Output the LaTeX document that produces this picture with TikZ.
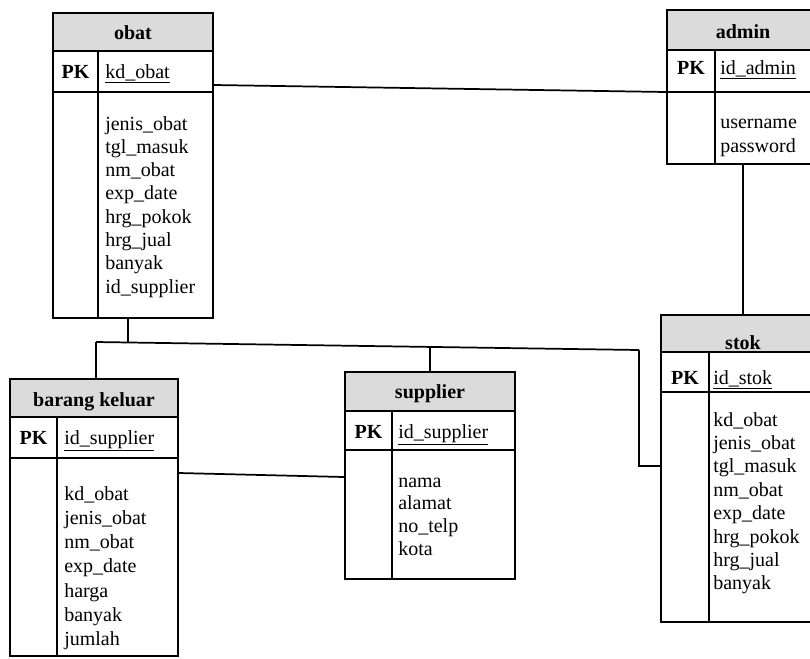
\documentclass[tikz,border=0pt]{standalone}
\usepackage{fontspec}
\setmainfont{Liberation Serif}
\usetikzlibrary{fit}
\tikzset{
  tablebox/.style={draw, line width=1.5pt, inner sep=0pt},
  titlebox/.style={draw, fill=black!14, line width=1.5pt, inner sep=0pt},
  rule/.style={line width=1.5pt},
  conn/.style={line width=1.3pt},
  ttl/.style={anchor=base, inner sep=0pt, font=\fontsize{15}{17.5}\selectfont\bfseries},
  pktxt/.style={anchor=base, inner sep=0pt, font=\fontsize{15}{17.5}\selectfont\bfseries},
  keytxt/.style={anchor=base west, inner sep=0pt, font=\fontsize{15}{17.5}\selectfont},
  attr/.style={anchor=base west, inner sep=0pt, font=\fontsize{15}{17.5}\selectfont},
}
\begin{document}
\begin{tikzpicture}[x=0.75pt,y=-0.75pt]
\useasboundingbox (0,0) rectangle (810,658);
\clip (0,0) rectangle (810,658);

% ---------- obat ----------
\node[tablebox, fit={(53,13) (213,318)}] (obat) {};
\node[titlebox, fit={(53,13) (213,51)}] (obatT) {};
\node[ttl] (obatTtxt) at (133,39) {obat};
\draw[rule] (53,92) -- (213,92);
\draw[rule] (98,51) -- (98,318);
\node[pktxt] (obatPK) at (75.5,78) {PK};
\node[keytxt] (obatK) at (105,78) {\underline{kd\_obat}};
\foreach \t [count=\i from 0] in {jenis\_obat,tgl\_masuk,nm\_obat,exp\_date,hrg\_pokok,hrg\_jual,banyak,id\_supplier}
  \node[attr] (obatA\i) at (105,130+\i*23.3) {\t};

% ---------- admin ----------
\node[tablebox, fit={(667,10) (830,164)}] (admin) {};
\node[titlebox, fit={(667,10) (830,50)}] (adminT) {};
\node[ttl] (adminTtxt) at (743,38) {admin};
\draw[rule] (667,92) -- (830,92);
\draw[rule] (715,50) -- (715,164);
\node[pktxt] (adminPK) at (691,74) {PK};
\node[keytxt] (adminK) at (720,74) {\underline{id\_admin}};
\node[attr] (adminA0) at (720,128) {username};
\node[attr] (adminA1) at (720,152) {password};

% ---------- stok ----------
\node[tablebox, fit={(661,315) (830,622)}] (stok) {};
\node[titlebox, fit={(661,315) (830,352)}] (stokT) {};
\node[ttl] (stokTtxt) at (743,349) {stok};
\draw[rule] (661,392) -- (830,392);
\draw[rule] (709,352) -- (709,622);
\node[pktxt] (stokPK) at (685,384) {PK};
\node[keytxt] (stokK) at (713,384) {\underline{id\_stok}};
\foreach \t [count=\i from 0] in {kd\_obat,jenis\_obat,tgl\_masuk,nm\_obat,exp\_date,hrg\_pokok,hrg\_jual,banyak}
  \node[attr] (stokA\i) at (713,426+\i*23.4) {\t};

% ---------- barang keluar ----------
\node[tablebox, fit={(10,379) (178,656)}] (bk) {};
\node[titlebox, fit={(10,379) (178,417)}] (bkT) {};
\node[ttl] (bkTtxt) at (94,406) {barang keluar};
\draw[rule] (10,458) -- (178,458);
\draw[rule] (57,417) -- (57,656);
\node[pktxt] (bkPK) at (33.5,444) {PK};
\node[keytxt] (bkK) at (64,444) {\underline{id\_supplier}};
\foreach \t [count=\i from 0] in {kd\_obat,jenis\_obat,nm\_obat,exp\_date,harga,banyak,jumlah}
  \node[attr] (bkA\i) at (64,500+\i*24.3) {\t};

% ---------- supplier ----------
\node[tablebox, fit={(345,372) (515,579)}] (sup) {};
\node[titlebox, fit={(345,372) (515,411)}] (supT) {};
\node[ttl] (supTtxt) at (430,398) {supplier};
\draw[rule] (345,450) -- (515,450);
\draw[rule] (392,411) -- (392,579);
\node[pktxt] (supPK) at (368.5,438) {PK};
\node[keytxt] (supK) at (398,438) {\underline{id\_supplier}};
\foreach \t [count=\i from 0] in {nama,alamat,no\_telp,kota}
  \node[attr] (supA\i) at (398,487+\i*22.7) {\t};

% ---------- connectors ----------
\coordinate (jL) at (96,342);
\coordinate (jO) at (128,342.5);
\coordinate (jS) at (430,346.5);
\coordinate (jR) at (639,350);
\coordinate (jK) at (639,466);

\draw[conn] (obat.east |- 0,85) -- (admin.west |- 0,92);
\draw[conn] (admin.south -| 743,0) -- (stok.north -| 743,0);
\draw[conn] (obat.south -| jO) -- (jO);
\draw[conn] (jL) -- (jR);
\draw[conn] (jL) -- (bk.north -| jL);
\draw[conn] (jS) -- (sup.north -| jS);
\draw[conn] (jR) -- (jK) -- (stok.west |- jK);
\draw[conn] (bk.east |- 0,473) -- (sup.west |- 0,477);
\end{tikzpicture}
\end{document}
